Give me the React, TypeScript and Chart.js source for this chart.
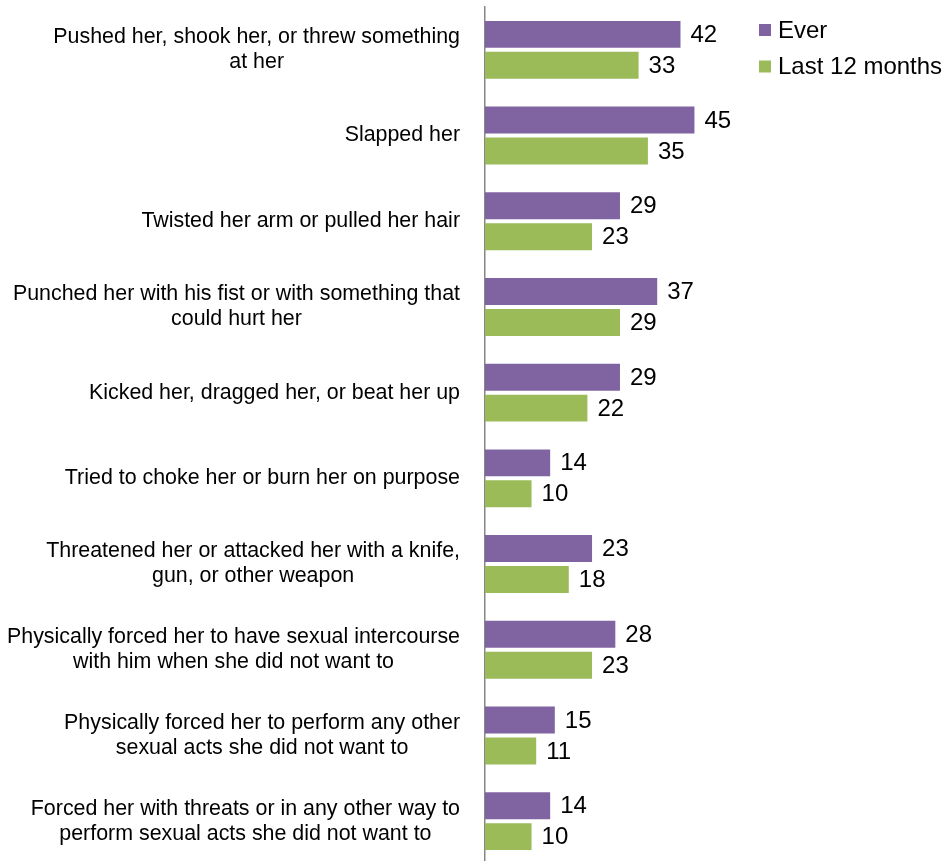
import React, { useEffect, useRef } from "react";
import { Chart, registerables } from "chart.js";

Chart.register(...registerables);

const categories: string[][] = [
  ["Pushed her, shook her, or threw something", "at her"],
  ["Slapped her"],
  ["Twisted her arm or pulled her hair"],
  ["Punched her with his fist or with something that", "could hurt her"],
  ["Kicked her, dragged her, or beat her up"],
  ["Tried to choke her or burn her on purpose"],
  ["Threatened her or attacked her with a knife,", "gun, or other weapon"],
  ["Physically forced her to have sexual intercourse", "with him when she did not want to"],
  ["Physically forced her to perform any other", "sexual acts she did not want to"],
  ["Forced her with threats or in any other way to", "perform sexual acts she did not want to"],
];

const everValues = [42, 45, 29, 37, 29, 14, 23, 28, 15, 14];
const last12Values = [33, 35, 23, 29, 22, 10, 18, 23, 11, 10];

const seriesNames = ["Ever", "Last 12 months"];
const seriesColors = ["#8064A2", "#9BBB59"];

const FONT = '"Liberation Sans", Arial, sans-serif';

const overlayPlugin = {
  id: "overlay",
  afterDatasetsDraw(chart: any) {
    const ctx = chart.ctx;
    const yScale = chart.scales.y;
    ctx.save();
    // data labels
    ctx.font = `24px ${FONT}`;
    ctx.fillStyle = "#000000";
    ctx.textAlign = "left";
    ctx.textBaseline = "middle";
    chart.data.datasets.forEach((ds: any, di: number) => {
      const meta = chart.getDatasetMeta(di);
      meta.data.forEach((bar: any, i: number) => {
        ctx.fillText(String(ds.data[i]), bar.x + 10, bar.y + 1);
      });
    });
    // category labels
    ctx.font = `21.4px ${FONT}`;
    ctx.textAlign = "center";
    const rightEdge = 460;
    const lineH = 25;
    categories.forEach((lines, i) => {
      const cy = yScale.getPixelForValue(i);
      const widths = lines.map((l) => ctx.measureText(l).width);
      const maxW = Math.max(...widths);
      const cx = rightEdge - maxW / 2;
      const startY = cy - ((lines.length - 1) * lineH) / 2;
      lines.forEach((l, j) => {
        ctx.fillText(l, cx, startY + j * lineH);
      });
    });
    // legend
    ctx.font = `24px ${FONT}`;
    ctx.textAlign = "left";
    const legendYs = [30, 66.5];
    seriesNames.forEach((name, i) => {
      const y = legendYs[i];
      ctx.fillStyle = seriesColors[i];
      ctx.fillRect(759, y - 6, 12, 12);
      ctx.fillStyle = "#000000";
      ctx.fillText(name, 778, y + 1);
    });
    ctx.restore();
  },
};

export default function App() {
  const canvasRef = useRef<HTMLCanvasElement | null>(null);

  useEffect(() => {
    if (!canvasRef.current) return;
    const chart = new Chart(canvasRef.current, {
      type: "bar",
      data: {
        labels: categories.map((c) => c.join(" ")),
        datasets: [
          {
            label: seriesNames[0],
            data: everValues,
            backgroundColor: seriesColors[0],
            categoryPercentage: 0.723,
            barPercentage: 0.87,
          },
          {
            label: seriesNames[1],
            data: last12Values,
            backgroundColor: seriesColors[1],
            categoryPercentage: 0.723,
            barPercentage: 0.87,
          },
        ],
      },
      options: {
        indexAxis: "y",
        animation: false,
        responsive: false,
        maintainAspectRatio: false,
        layout: { padding: { top: 7, right: 203, bottom: 0, left: 0 } },
        plugins: {
          legend: { display: false },
          tooltip: { enabled: false },
        },
        scales: {
          x: {
            display: false,
            min: 0,
            max: 55,
          },
          y: {
            position: "left",
            grid: { display: true, drawOnChartArea: false, drawTicks: false, color: "rgba(0,0,0,0)" },
            border: { display: true, color: "#868686", width: 1.5 },
            ticks: { display: false },
            afterFit: (scale: any) => {
              scale.width = 485;
            },
          },
        },
      },
      plugins: [overlayPlugin],
    });
    return () => chart.destroy();
  }, []);

  return (
    <div style={{ position: "fixed", top: 0, left: 0, width: 944, height: 864, background: "#ffffff" }}>
      <canvas ref={canvasRef} width={944} height={864} style={{ width: 944, height: 864 }} />
    </div>
  );
}
